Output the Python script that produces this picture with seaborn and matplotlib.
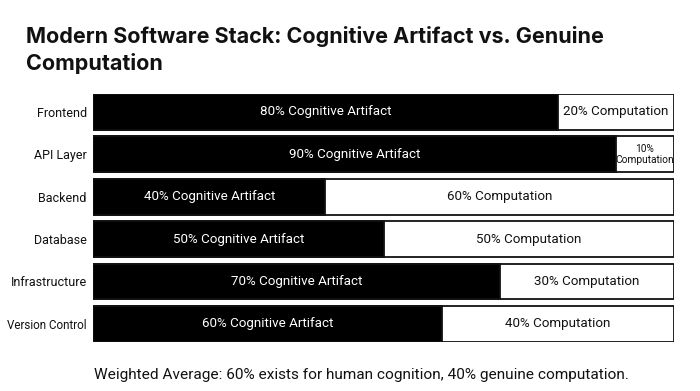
import matplotlib
matplotlib.use("Agg")
import matplotlib.pyplot as plt
import seaborn as sns
import pandas as pd

layers = ["Frontend", "API Layer", "Backend", "Database", "Infrastructure", "Version Control"]
cognitive = [80, 90, 40, 50, 70, 60]
computation = [20, 10, 60, 50, 30, 40]
title_lines = ["Modern Software Stack: Cognitive Artifact vs. Genuine", "Computation"]
footer = "Weighted Average: 60% exists for human cognition, 40% genuine computation."

df = pd.DataFrame({"layer": layers, "cognitive": cognitive, "computation": computation})
df["total"] = df["cognitive"] + df["computation"]

sns.set_theme(style="white")
plt.rcParams["font.family"] = ["Roboto", "DejaVu Sans"]

fig = plt.figure(figsize=(7, 3.91), dpi=100)
fig.patch.set_facecolor("white")
h = 0.845
ax = fig.add_axes([93 / 700, 1 - 341.7 / 391, (674 - 93) / 700, (341.7 - 94) / 391])

sns.barplot(data=df, y="layer", x="total", color="white", edgecolor="#111111",
            linewidth=1.3, width=h, orient="h", ax=ax, saturation=1)
sns.barplot(data=df, y="layer", x="cognitive", color="black", edgecolor="#111111",
            linewidth=1.3, width=h, orient="h", ax=ax, saturation=1)

ax.set_xlim(0, 100)
ax.set_ylim(len(layers) - 1 + h / 2, -h / 2)
ax.set_xlabel("")
ax.set_ylabel("")
ax.set_xticks([])
for s in ax.spines.values():
    s.set_visible(False)
ax.tick_params(axis="y", length=0, pad=4.5, labelsize=9, labelcolor="#111111")
for lab in ax.get_yticklabels():
    if lab.get_text() == "Version Control":
        lab.set_fontsize(8.4)

for i, (c, p) in enumerate(zip(cognitive, computation)):
    ax.text(c / 2, i, f"{c}% Cognitive Artifact", ha="center", va="center",
            color="white", fontsize=9.6)
    if p < 15:
        ax.text(c + p / 2, i, f"{p}%\nComputation", ha="center", va="center",
                color="#111111", fontsize=7.3, linespacing=1.1)
    else:
        ax.text(c + p / 2, i, f"{p}% Computation", ha="center", va="center",
                color="#111111", fontsize=9.6)

for k, (line, base) in enumerate(zip(title_lines, [43, 70])):
    fig.text(26 / 700, 1 - base / 391, line, ha="left", va="baseline", fontsize=15.5,
             fontweight="bold", color="#111111", family=["Inter", "DejaVu Sans"])
fig.text(94 / 700, 1 - 379 / 391, footer, ha="left", va="baseline", fontsize=11.1,
         color="#111111")

fig.savefig("out.png", dpi=100, facecolor="white")
